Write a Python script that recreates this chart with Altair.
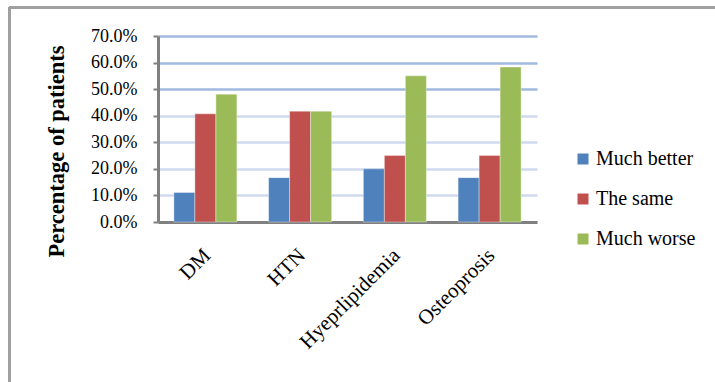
import altair as alt
import pandas as pd

categories = ["DM", "HTN", "Hyeprlipidemia", "Osteoprosis"]
series = ["Much better", "The same", "Much worse"]
much_better = [0.111, 0.167, 0.200, 0.167]
the_same = [0.407, 0.417, 0.250, 0.250]
much_worse = [0.481, 0.417, 0.550, 0.583]
colors = ["#4f81bd", "#c0504d", "#9bbb59"]
y_ticks = [0.0, 0.1, 0.2, 0.3, 0.4, 0.5, 0.6, 0.7]

rows = []
for i, c in enumerate(categories):
    for s, vals in zip(series, [much_better, the_same, much_worse]):
        rows.append({"category": c, "series": s, "value": vals[i]})
df = pd.DataFrame(rows)

FONT = "Liberation Serif"
W, H = 379, 186
LEFT, TOP = 158, 36

bars = alt.Chart(df).mark_bar(stroke="#ffffff", strokeWidth=0.6, strokeOpacity=0.6).encode(
    x=alt.X("category:N", sort=categories,
            scale=alt.Scale(paddingInner=0.335, paddingOuter=0.1675),
            axis=alt.Axis(title=None, labelAngle=-45, labelAlign="right",
                          labelBaseline="middle", labelPadding=30, labelOffset=2,
                          labelFont=FONT, labelFontSize=21, labelColor="#000000",
                          ticks=False, domainColor="#808080", domainWidth=3,
                          grid=False)),
    xOffset=alt.XOffset("series:N", sort=series, scale=alt.Scale(paddingInner=0, paddingOuter=0)),
    y=alt.Y("value:Q", scale=alt.Scale(domain=[0, 0.7], nice=False),
            axis=alt.Axis(title="Percentage of patients", values=y_ticks, format=".1%",
                          labelFont=FONT, labelFontSize=18, labelColor="#000000",
                          labelPadding=16, tickSize=5, tickColor="#808080", tickWidth=2,
                          domainColor="#808080", domainWidth=3,
                          gridColor=alt.condition("datum.value >= 0.45",
                                                  alt.value("#a0b9e0"),
                                                  alt.value("#cfdaef")),
                          gridWidth=2.5,
                          titleFont=FONT, titleFontSize=22.5, titleFontWeight="bold",
                          titleColor="#000000", titleAngle=270,
                          titleX=56 - LEFT, titleY=151 - TOP,
                          titleAlign="center", titleBaseline="middle")),
    color=alt.Color("series:N", sort=series,
                    scale=alt.Scale(domain=series, range=colors),
                    legend=alt.Legend(title=None, orient="none",
                                      legendX=573 - LEFT, legendY=149 - TOP,
                                      padding=0,
                                      symbolType="square", symbolSize=121,
                                      symbolStrokeWidth=0, rowPadding=20,
                                      labelFont=FONT, labelFontSize=20,
                                      labelColor="#000000", labelOffset=3)),
)

frame_top = alt.Chart(df).mark_rule(color="#a0a0a0", strokeWidth=2).encode(
    x=alt.value(9 - LEFT), x2=alt.value(715 - LEFT), y=alt.value(7.5 - TOP))
frame_left = alt.Chart(df).mark_rule(color="#a0a0a0", strokeWidth=2.5).encode(
    x=alt.value(9.5 - LEFT), y=alt.value(7 - TOP), y2=alt.value(382 - TOP))

chart = alt.layer(bars, frame_top, frame_left).properties(
    width=W, height=H,
    autosize=alt.AutoSizeParams(type="none"),
    padding={"left": LEFT, "top": TOP, "right": 715 - LEFT - W, "bottom": 382 - TOP - H},
    background="#ffffff",
).configure(font=FONT).configure_axis(
    labelFont=FONT, titleFont=FONT
).configure_legend(
    labelFont=FONT
).configure_view(stroke=None)

chart.save("out.html", embed_options={"renderer": "svg", "actions": False})
